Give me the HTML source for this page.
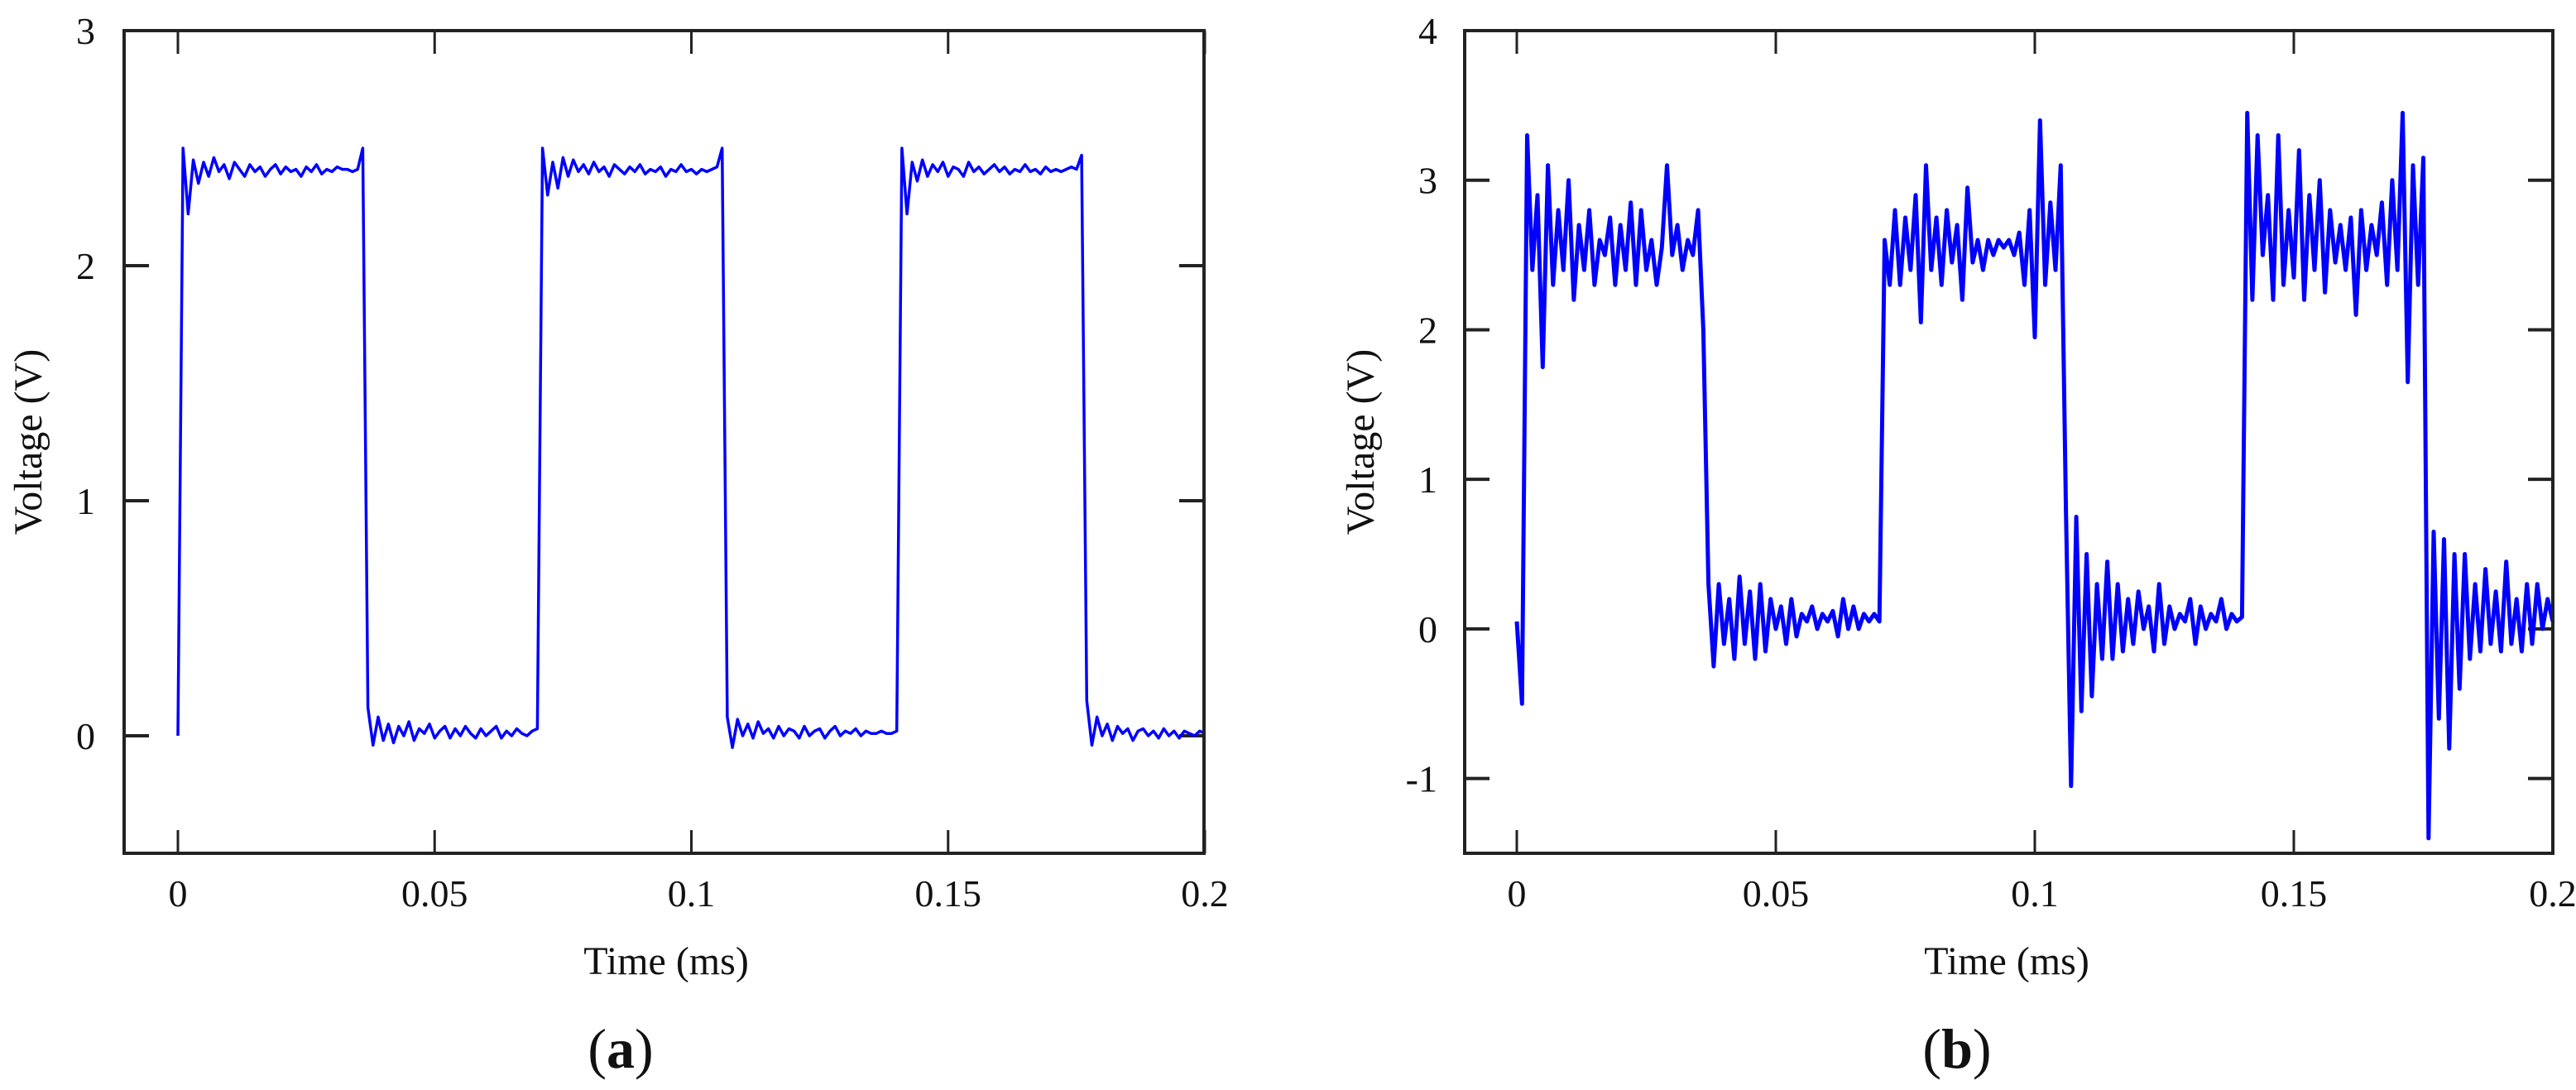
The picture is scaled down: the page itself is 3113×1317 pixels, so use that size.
<!DOCTYPE html>
<html><head><meta charset="utf-8"><style>
html,body{margin:0;padding:0;background:#fff;}
svg{display:block;}
text{font-family:"Liberation Serif",serif;fill:#111;}
</style></head><body>
<svg id="fig" width="3113" height="1317" viewBox="0 0 3113 1317" xmlns="http://www.w3.org/2000/svg">
<rect width="3113" height="1317" fill="#fff"/>
<g id="chartA"></g>
<g id="chartB"></g>
</svg>
<script>
const timeStep = 0.001;
const xTicks = [0, 0.05, 0.1, 0.15, 0.2];
const xTickLabels = ["0", "0.05", "0.1", "0.15", "0.2"];
const yTicksA = [0, 1, 2, 3];
const yTicksB = [-1, 0, 1, 2, 3, 4];
const voltageA = [0.0,
2.50,2.22,2.45,2.35,2.44,2.38,2.46,2.40,2.43,2.37,2.44,2.41,2.38,2.43,2.40,2.42,2.38,2.41,2.43,2.39,2.42,2.40,2.41,2.38,2.42,2.40,2.43,2.39,2.41,2.40,2.42,2.41,2.41,2.40,2.41,2.50,
0.12,-0.04,0.08,-0.02,0.05,-0.03,0.04,0.0,0.06,-0.02,0.03,0.01,0.05,-0.01,0.02,0.04,-0.01,0.03,0.0,0.04,0.01,-0.01,0.03,0.0,0.02,0.04,-0.01,0.02,0.0,0.03,0.01,0.0,0.02,0.03,
2.50,2.30,2.44,2.33,2.46,2.38,2.45,2.40,2.43,2.39,2.44,2.40,2.42,2.38,2.43,2.41,2.39,2.42,2.40,2.43,2.39,2.41,2.40,2.42,2.38,2.41,2.40,2.43,2.40,2.41,2.39,2.41,2.40,2.41,2.42,2.50,
0.08,-0.05,0.07,0.0,0.05,-0.01,0.06,0.01,0.03,-0.01,0.04,0.0,0.03,0.02,-0.01,0.04,0.0,0.02,0.03,-0.01,0.02,0.04,0.0,0.02,0.01,0.03,0.0,0.02,0.01,0.01,0.02,0.01,0.01,0.02,
2.50,2.22,2.44,2.36,2.45,2.38,2.43,2.40,2.44,2.38,2.42,2.41,2.38,2.44,2.40,2.42,2.39,2.41,2.43,2.40,2.42,2.39,2.41,2.40,2.43,2.40,2.41,2.39,2.42,2.40,2.41,2.40,2.41,2.42,2.41,2.47,
0.15,-0.04,0.08,0.0,0.05,-0.02,0.04,0.01,0.03,-0.02,0.02,0.03,0.0,0.02,-0.01,0.03,0.0,0.02,-0.01,0.02,0.01,0.0,0.02,0.01];
const voltageB = [0.05,-0.5,3.3,2.4,2.9,1.75,3.1,2.3,2.8,2.4,3.0,2.2,2.7,2.4,2.8,2.3,2.6,2.5,2.75,2.3,
2.7,2.4,2.85,2.3,2.8,2.4,2.6,2.3,2.55,3.1,2.5,2.7,2.4,2.6,2.5,2.8,2.0,0.3,-0.25,0.3,
-0.1,0.2,-0.2,0.35,-0.1,0.25,-0.2,0.3,-0.15,0.2,0.0,0.15,-0.1,0.2,-0.05,0.1,0.05,0.15,0.0,0.1,
0.05,0.12,-0.05,0.2,0.0,0.15,0.0,0.1,0.05,0.1,0.05,2.6,2.3,2.8,2.3,2.75,2.4,2.9,2.05,3.1,
2.4,2.75,2.3,2.8,2.45,2.7,2.2,2.95,2.45,2.6,2.4,2.6,2.5,2.6,2.55,2.6,2.5,2.65,2.3,2.8,
1.95,3.4,2.3,2.85,2.4,3.1,0.8,-1.05,0.75,-0.55,0.5,-0.45,0.3,-0.2,0.45,-0.2,0.3,-0.15,0.2,-0.1,
0.25,0.0,0.15,-0.15,0.3,-0.1,0.15,0.0,0.1,0.05,0.2,-0.1,0.15,0.0,0.1,0.05,0.2,0.0,0.1,0.05,
0.08,3.45,2.2,3.3,2.5,2.9,2.2,3.3,2.3,2.8,2.35,3.2,2.2,2.9,2.4,3.0,2.25,2.8,2.45,2.7,
2.4,2.75,2.1,2.8,2.4,2.7,2.5,2.85,2.3,3.0,2.4,3.45,1.65,3.1,2.3,3.15,-1.4,0.65,-0.6,0.6,
-0.8,0.5,-0.4,0.5,-0.2,0.3,-0.15,0.4,-0.1,0.25,-0.15,0.45,-0.1,0.2,-0.15,0.3,-0.1,0.3,0.0,0.2,
0.05];

const NS = "http://www.w3.org/2000/svg";
function mk(tag, attrs, parent){
  const e = document.createElementNS(NS, tag);
  for (const k in attrs) e.setAttribute(k, attrs[k]);
  parent.appendChild(e);
  return e;
}
function build(g, cfg, values, yTicks, yLabels, letter){
  const xs = v => cfg.x0 + (v - 0) * (cfg.x02 - cfg.x0) / 0.2;
  const ys = v => cfg.top + (cfg.yMax - v) * (cfg.bottom - cfg.top) / (cfg.yMax - cfg.yMin);
  xTicks.forEach((t, i) => {
    const x = xs(t);
    const tb = mk("line", {x1:x, x2:x, y1:cfg.bottom, y2:cfg.bottom-28, stroke:"#222","stroke-width":3}, g);
    
    
    const tt = mk("line", {x1:x, x2:x, y1:cfg.top, y2:cfg.top+28, stroke:"#222","stroke-width":3}, g);
    
    
    const lb = mk("text", {x:x, y:cfg.bottom+64, "font-size":46, "text-anchor":"middle"}, g);
    lb.textContent = xTickLabels[i];
    
    
  });
  yTicks.forEach((v, i) => {
    const y = ys(v);
    const tl = mk("line", {x1:cfg.left, x2:cfg.left+30, y1:y, y2:y, stroke:"#222","stroke-width":4}, g);
    
    
    const tr = mk("line", {x1:cfg.right, x2:cfg.right-30, y1:y, y2:y, stroke:"#222","stroke-width":4}, g);
    
    
    const lb = mk("text", {x:cfg.ylabX, y:y+16, "font-size":46, "text-anchor":"end"}, g);
    lb.textContent = yLabels[i];
    
    
  });
  let d = "";
  values.forEach((v, i) => {
    d += (i ? "L" : "M") + xs(i * timeStep).toFixed(1) + " " + ys(v).toFixed(1);
  });
  const p = mk("path", {d:d, fill:"none", stroke:"#0000ff", "stroke-width":cfg.sw, "stroke-linejoin":"round"}, g);
  
  
  const fr = mk("rect", {x:cfg.left, y:cfg.top, width:cfg.right-cfg.left, height:cfg.bottom-cfg.top, fill:"none", stroke:"#222", "stroke-width":4}, g);
  
  
  const xl = mk("text", {x:cfg.xlabX, y:cfg.bottom+146, "font-size":48, "text-anchor":"middle"}, g);
  xl.textContent = "Time (ms)";
  
  
  const yl = mk("text", {x:0, y:0, "font-size":48, "text-anchor":"middle", transform:"translate(" + cfg.yTitleX + "," + ((cfg.top+cfg.bottom)/2) + ") rotate(-90)"}, g);
  yl.textContent = "Voltage (V)";
  
  
  const cap = mk("text", {x:cfg.capX, y:1290, "font-size":68, "text-anchor":"middle"}, g);
  
  
  const o = mk("tspan", {}, cap); o.textContent = "(";
  const b = mk("tspan", {"font-weight":"bold"}, cap); b.textContent = letter;
  const c = mk("tspan", {}, cap); c.textContent = ")";
}
build(document.getElementById("chartA"),
  {left:150,right:1455,top:37,bottom:1031,x0:215,x02:1456,yMin:-0.5,yMax:3,ylabX:115,xlabX:805,yTitleX:50,capX:750,sw:3.5},
  voltageA, yTicksA, ["0","1","2","3"], "a");
build(document.getElementById("chartB"),
  {left:1770,right:3085,top:37,bottom:1031,x0:1833,x02:3085,yMin:-1.5,yMax:4,ylabX:1737,xlabX:2425,yTitleX:1660,capX:2365,sw:5},
  voltageB, yTicksB, ["-1","0","1","2","3","4"], "b");
</script>
</body></html>
